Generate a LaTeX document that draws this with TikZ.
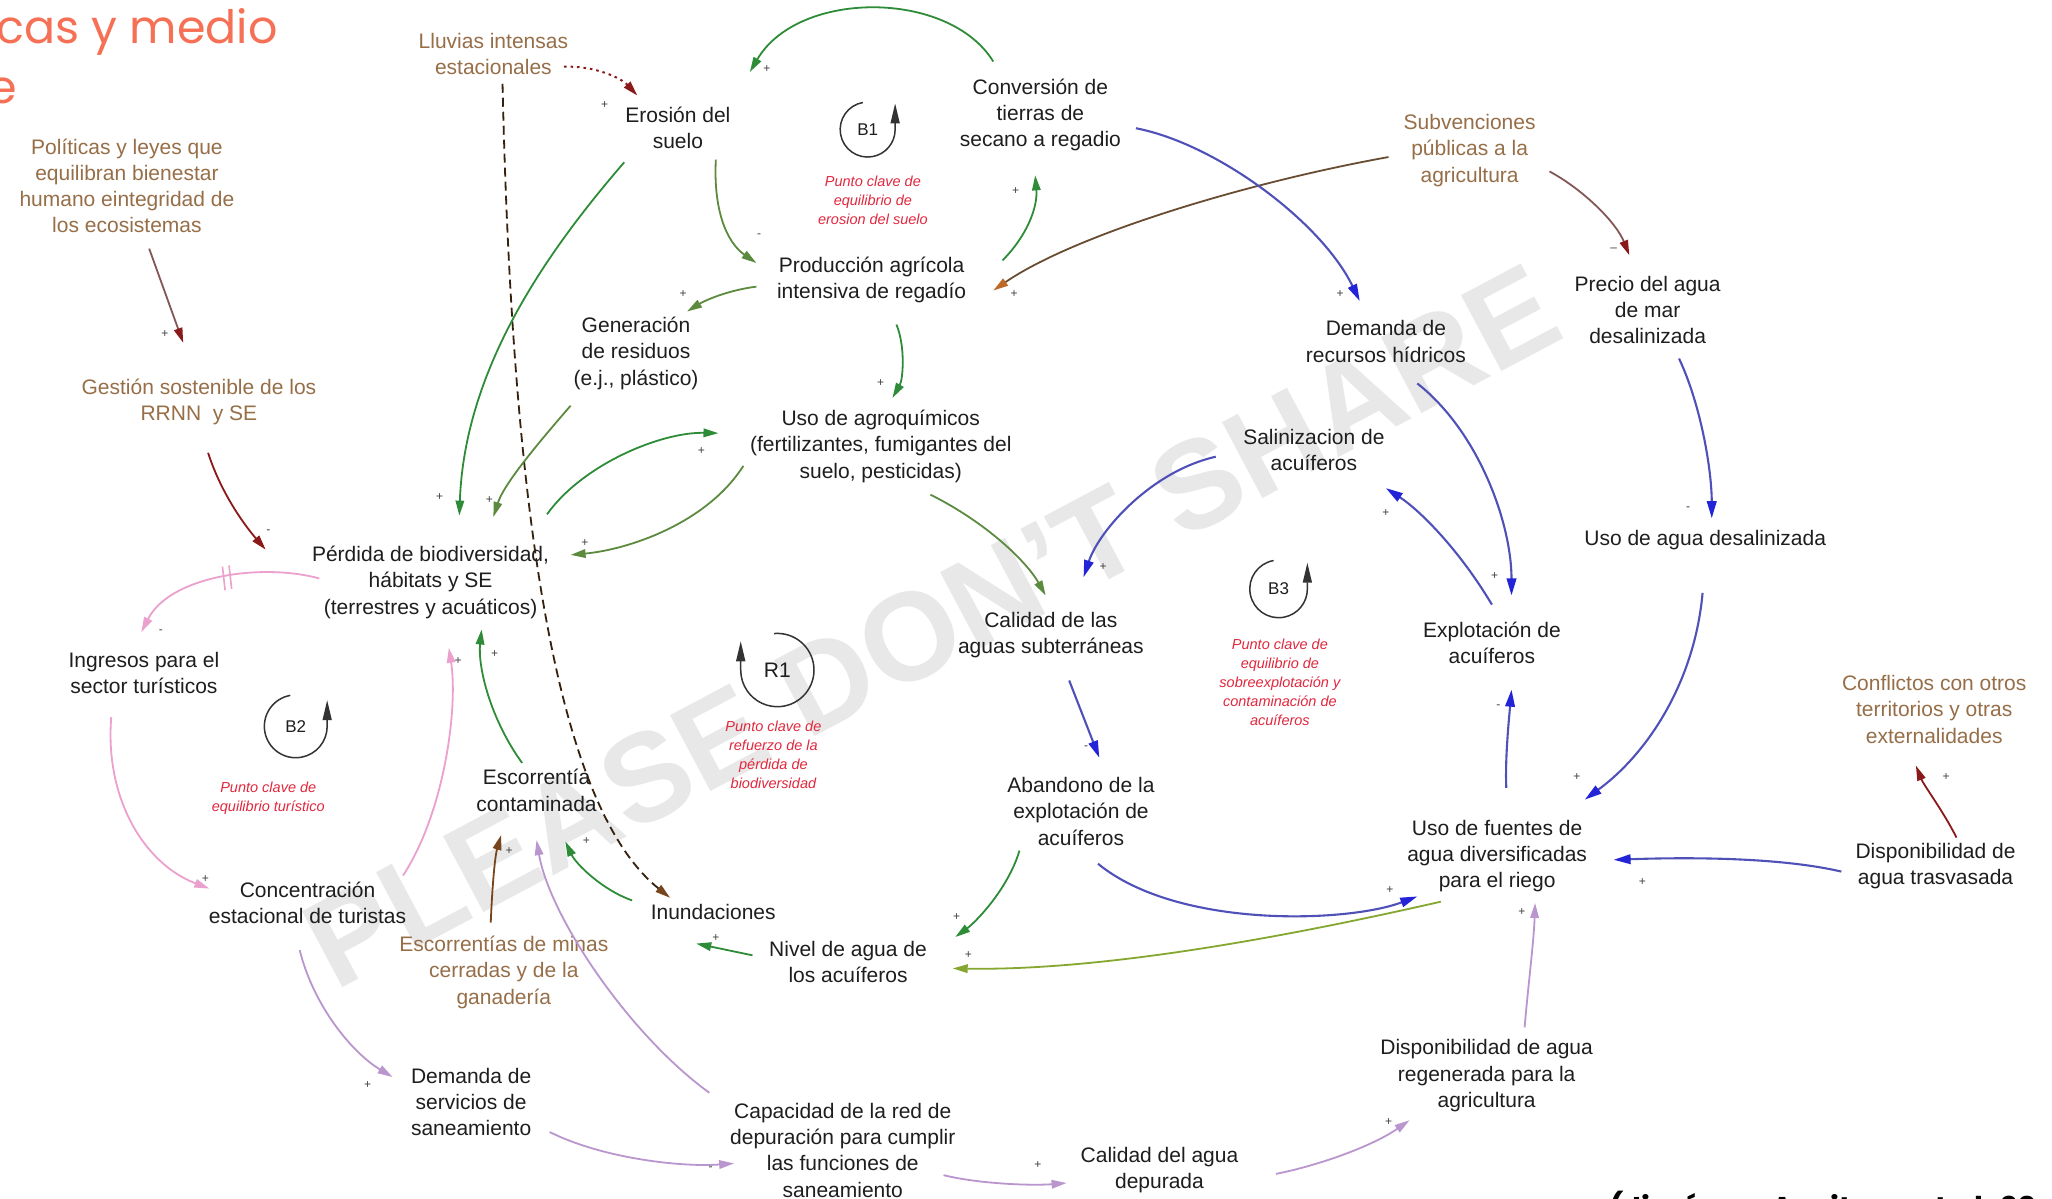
\documentclass[tikz,border=0pt]{standalone}
\usepackage{fontspec}
\setmainfont{Liberation Sans}
\newfontfamily\popfont{Poppins}
\usetikzlibrary{arrows.meta}
\definecolor{txt}{RGB}{30,30,30}
\definecolor{ext}{RGB}{150,110,72}
\definecolor{keyred}{RGB}{225,40,62}
\definecolor{ttl}{RGB}{245,112,84}
\definecolor{cgreen}{RGB}{46,140,56}
\definecolor{colive}{RGB}{92,138,62}
\definecolor{cblue}{RGB}{35,35,215}
\definecolor{cbluel}{RGB}{80,80,185}
\definecolor{clilac}{RGB}{185,150,205}
\definecolor{cpink}{RGB}{235,160,205}
\definecolor{cdred}{RGB}{140,25,25}
\definecolor{cbrown}{RGB}{120,70,30}
\definecolor{cbrtip}{RGB}{190,105,40}
\definecolor{wm}{RGB}{232,232,232}
\tikzset{
  lbl/.style={font=\fontsize{21}{26.2}\selectfont, text=txt, align=center, inner sep=1pt},
  extl/.style={lbl, text=ext},
  keytxt/.style={font=\fontsize{14.5}{19}\selectfont\itshape, text=keyred, align=center, inner sep=1pt},
  sgn/.style={font=\fontsize{12}{12}\selectfont, text=black!75, inner sep=0pt},
  looplbl/.style={font=\fontsize{17}{17}\selectfont, text=txt, inner sep=0pt},
  loopc/.style={line width=1.5pt, draw=black!80, -{Triangle[length=20pt,width=9pt]}},
  con/.style={line width=1.8pt, -{Triangle[length=15pt,width=8.5pt]}},
  cg/.style={con, draw=cgreen},
  co/.style={con, draw=colive},
  cb/.style={line width=2.1pt, draw=cbluel, -{Triangle[length=17pt,width=9.5pt,color=cblue]}},
  cl/.style={con, draw=clilac},
  cp/.style={con, draw=cpink},
  cr/.style={con, draw=cdred},
  cbr/.style={con, draw=cbrown},
}
\begin{document}
\begin{tikzpicture}[x=1.3087pt,y=-1.3087pt]
\path[use as bounding box, clip] (0,0) rectangle (1568,916);
\fill[white] (0,0) rectangle (1568,916);

% watermark
\node[rotate=28, font=\fontsize{125}{125}\selectfont\bfseries, text=wm, inner sep=0] (wmk) at (712,478) {PLEASE DON’T SHARE};

% title and citation (cut by the frame)
\node[anchor=base west, inner sep=0, font=\popfont\fontsize{46}{46}\selectfont, text=ttl] (title1) at (-3,33) {cas y medio};
\node[anchor=base west, inner sep=0, font=\popfont\fontsize{46}{46}\selectfont, text=ttl] (title2) at (-9,79) {e};
\node[anchor=base west, inner sep=0, font=\popfont\bfseries\fontsize{30}{30}\selectfont, text=black] (cite) at (1230,931) {(Jiménez-Aceituno et al. 20};

% external variables
\node[extl] (lluvias) at (377,41) {Lluvias intensas\\estacionales};
\node[extl] (politicas) at (97,142) {Políticas y leyes que\\equilibran bienestar\\humano eintegridad de\\los ecosistemas};
\node[extl] (gestion) at (152,307) {Gestión sostenible de los\\RRNN \ y SE};
\node[extl] (subv) at (1123,115) {Subvenciones\\públicas a la\\agricultura};
\node[extl] (escminas) at (385,743) {Escorrentías de minas\\cerradas y de la\\ganadería};
\node[extl] (conflictos) at (1478,542) {Conflictos con otros\\territorios y otras\\externalidades};

% variables
\node[lbl] (erosion) at (518,98) {Erosión del\\suelo};
\node[lbl] (conversion) at (795,88) {Conversión de\\tierras de\\secano a regadio};
\node[lbl] (prod) at (666,214) {Producción agrícola\\intensiva de regadío};
\node[lbl] (gener) at (486,270) {Generación\\de residuos\\(e.j., plástico)};
\node[lbl] (agro) at (673,341) {Uso de agroquímicos\\(fertilizantes, fumigantes del\\suelo, pesticidas)};
\node[lbl] (perdida) at (329,445) {Pérdida de biodiversidad,\\hábitats y SE\\(terrestres y acuáticos)};
\node[lbl] (ingresos) at (110,514) {Ingresos para el\\sector turísticos};
\node[lbl] (concen) at (235,690) {Concentración\\estacional de turistas};
\node[lbl] (escorr) at (410,604) {Escorrentía\\contaminada};
\node[lbl] (inund) at (545,697) {Inundaciones};
\node[lbl] (nivel) at (648,735) {Nivel de agua de\\los acuíferos};
\node[lbl] (calsub) at (803,485) {Calidad de las\\aguas subterráneas};
\node[lbl] (abandono) at (826,620) {Abandono de la\\explotación de\\acuíferos};
\node[lbl] (demrec) at (1059,261) {Demanda de\\recursos hídricos};
\node[lbl] (salin) at (1004,344) {Salinizacion de\\acuíferos};
\node[lbl] (precio) at (1259,237) {Precio del agua\\de mar\\desalinizada};
\node[lbl] (usodesal) at (1303,413) {Uso de agua desalinizada};
\node[lbl] (explot) at (1140,491) {Explotación de\\acuíferos};
\node[lbl] (usofuentes) at (1144,654) {Uso de fuentes de\\agua diversificadas\\para el riego};
\node[lbl] (disptrasv) at (1479,662) {Disponibilidad de\\agua trasvasada};
\node[lbl] (dispreg) at (1136,822) {Disponibilidad de agua\\regenerada para la\\agricultura};
\node[lbl] (demsan) at (360,842) {Demanda de\\servicios de\\saneamiento};
\node[lbl] (capacidad) at (644,879) {Capacidad de la red de\\depuración para cumplir\\las funciones de\\saneamiento};
\node[lbl] (caldep) at (886,894) {Calidad del agua\\depurada};

% loop markers
\node[looplbl] (b1) at (663,99) {B1};
\draw[loopc] (b1.center) ++(-100:21) arc[start angle=-100, end angle=-360, radius=21] -- ++(0,-20);
\node[looplbl] (b2) at (226,555) {B2};
\draw[loopc] (b2.center) ++(-100:24) arc[start angle=-100, end angle=-360, radius=24] -- ++(0,-20);
\node[looplbl] (b3) at (977,450) {B3};
\draw[loopc] (b3.center) ++(-100:22) arc[start angle=-100, end angle=-360, radius=22] -- ++(0,-20);
\node[looplbl, font=\fontsize{21}{21}\selectfont] (r1) at (594,512) {R1};
\draw[loopc] (r1.center) ++(-95:28) arc[start angle=-95, end angle=180, radius=28] -- ++(0,-22);

\node[keytxt] (k1) at (667,153) {Punto clave de\\equilibrio de\\erosion del suelo};
\node[keytxt] (k2) at (205,610) {Punto clave de\\equilibrio turístico};
\node[keytxt] (k3) at (978,521) {Punto clave de\\equilibrio de\\sobreexplotación y\\contaminación de\\acuíferos};
\node[keytxt] (k4) at (591,577) {Punto clave de\\refuerzo de la\\pérdida de\\biodiversidad};

% connectors
\draw[cr, line width=2pt, dash pattern=on 2.5pt off 4pt] ([shift={(54,10)}]lluvias.center) .. controls (455,50) and (475,60) .. ([shift={(-31,-25)}]erosion.center);
\draw[con, draw=black!55!cbrown, dash pattern=on 9pt off 5pt, -{Triangle[length=15pt,width=8.5pt,color=cbrown]}] ([shift={(7,23)}]lluvias.center) .. controls (392,420) and (430,620) .. ([shift={(-33,-11)}]inund.center);
\draw[cg] ([shift={(-36,-41)}]conversion.center) .. controls (725,-8) and (610,-8) .. ([shift={(55,-43)}]erosion.center);
\draw[cg] ([shift={(-41,26)}]erosion.center) .. controls (420,190) and (355,280) .. ([shift={(22,-51)}]perdida.center);
\draw[co] ([shift={(29,24)}]erosion.center) .. controls (545,160) and (555,185) .. ([shift={(-88,-13)}]prod.center);
\draw[cg] ([shift={(100,-15)}]prod.center) .. controls (785,180) and (793,158) .. ([shift={(-4,46)}]conversion.center);
\draw[con, draw=ext!70!black, -{Triangle[length=15pt,width=8.5pt,color=cbrtip]}] ([shift={(-62,5)}]subv.center) .. controls (950,140) and (820,180) .. ([shift={(93,8)}]prod.center);
\draw[con, draw=gray!60!cdred, -{Triangle[length=15pt,width=8.5pt,color=cdred]}] ([shift={(61,16)}]subv.center) .. controls (1210,145) and (1235,170) .. ([shift={(-14,-42)}]precio.center);
\draw[cb] ([shift={(73,10)}]conversion.center) .. controls (930,110) and (1010,170) .. ([shift={(-20,-31)}]demrec.center);
\draw[co] ([shift={(-88,5)}]prod.center) .. controls (555,222) and (538,230) .. ([shift={(39,-32)}]gener.center);
\draw[cg] ([shift={(19,34)}]prod.center) .. controls (692,265) and (690,290) .. ([shift={(9,-37)}]agro.center);
\draw[co] ([shift={(-50,40)}]gener.center) .. controls (410,340) and (385,370) .. ([shift={(48,-50)}]perdida.center);
\draw[cg] ([shift={(89,-52)}]perdida.center) .. controls (445,355) and (505,330) .. ([shift={(-124,-10)}]agro.center);
\draw[co] ([shift={(-105,15)}]agro.center) .. controls (540,400) and (480,420) .. ([shift={(107,-21)}]perdida.center);
\draw[co] ([shift={(38,37)}]agro.center) .. controls (755,400) and (785,430) .. ([shift={(-4,-30)}]calsub.center);
\draw[cb] ([shift={(-75,5)}]salin.center) .. controls (880,360) and (840,405) .. ([shift={(25,-44)}]calsub.center);
\draw[cb] ([shift={(24,32)}]demrec.center) .. controls (1130,330) and (1155,400) .. ([shift={(15,-36)}]explot.center);
\draw[cb] ([shift={(0,-29)}]explot.center) .. controls (1115,420) and (1085,390) .. ([shift={(55,29)}]salin.center);
\draw[cb] ([shift={(24,37)}]precio.center) .. controls (1300,310) and (1308,360) .. ([shift={(5,-17)}]usodesal.center);
\draw[cb] ([shift={(-2,40)}]usodesal.center) .. controls (1295,520) and (1260,575) .. ([shift={(67,-43)}]usofuentes.center);
\draw[cb] ([shift={(7,-52)}]usofuentes.center) .. controls (1150,580) and (1153,550) .. ([shift={(15,36)}]explot.center);
\draw[cb] ([shift={(14,35)}]calsub.center) -- ([shift={(14,-41)}]abandono.center);
\draw[cb] ([shift={(13,40)}]abandono.center) .. controls (900,710) and (1030,705) .. ([shift={(-61,31)}]usofuentes.center);
\draw[con, draw=colive!75!yellow] ([shift={(-43,35)}]usofuentes.center) .. controls (1000,712) and (850,742) .. ([shift={(80,5)}]nivel.center);
\draw[cg] ([shift={(-47,30)}]abandono.center) .. controls (770,680) and (745,705) .. ([shift={(82,-19)}]nivel.center);
\draw[cg] ([shift={(-73,-5)}]nivel.center) -- ([shift={(-13,24)}]inund.center);
\draw[cg] ([shift={(-62,-9)}]inund.center) .. controls (460,680) and (440,660) .. ([shift={(22,39)}]escorr.center);
\draw[cbr] ([shift={(-10,-38)}]escminas.center) .. controls (376,680) and (378,655) .. ([shift={(-27,34)}]escorr.center);
\draw[cl] ([shift={(-102,-44)}]capacidad.center) .. controls (480,790) and (420,700) .. ([shift={(0,38)}]escorr.center);
\draw[cg] ([shift={(-11,-21)}]escorr.center) .. controls (375,550) and (365,510) .. ([shift={(39,36)}]perdida.center);
\draw[cr] ([shift={(7,39)}]gestion.center) .. controls (170,380) and (190,405) .. ([shift={(-126,-25)}]perdida.center);
\draw[con, draw=gray!60!cdred, -{Triangle[length=15pt,width=8.5pt,color=cdred]}] ([shift={(17,48)}]politicas.center) -- ([shift={(-12,-45)}]gestion.center);
\draw[cp] ([shift={(-85,-3)}]perdida.center) .. controls (200,430) and (130,440) .. ([shift={(-2,-31)}]ingresos.center);
\draw[cpink, line width=1.6pt] (170,433) -- (172,451) (175,432) -- (177,450);
\draw[cp] ([shift={(-25,34)}]ingresos.center) .. controls (80,610) and (110,660) .. ([shift={(-75,-11)}]concen.center);
\draw[cp] ([shift={(73,-21)}]concen.center) .. controls (340,620) and (350,540) .. ([shift={(14,50)}]perdida.center);
\draw[cl] ([shift={(-6,36)}]concen.center) .. controls (240,770) and (270,805) .. ([shift={(-60,-19)}]demsan.center);
\draw[cl] ([shift={(60,23)}]demsan.center) .. controls (460,885) and (520,892) .. ([shift={(-83,10)}]capacidad.center);
\draw[cl] ([shift={(77,19)}]capacidad.center) .. controls (750,905) and (790,906) .. ([shift={(-71,10)}]caldep.center);
\draw[cl] ([shift={(89,3)}]caldep.center) .. controls (1010,890) and (1050,875) .. ([shift={(-59,34)}]dispreg.center);
\draw[cl] ([shift={(29,-37)}]dispreg.center) .. controls (1168,750) and (1172,720) .. ([shift={(29,36)}]usofuentes.center);
\draw[cb] ([shift={(-72,4)}]disptrasv.center) .. controls (1360,655) and (1290,655) .. ([shift={(89,3)}]usofuentes.center);
\draw[cr] ([shift={(16,-22)}]disptrasv.center) .. controls (1485,620) and (1470,600) .. ([shift={(-14,43)}]conflictos.center);

% polarity signs
\node[sgn] (s1) at (462,80) {+};
\node[sgn] (s3) at (586,53) {+};
\node[sgn] (s4) at (336,380) {+};
\node[sgn] (s12) at (374,382) {+};
\node[sgn] (s5) at (580,180) {-};
\node[sgn] (s6) at (776,146) {+};
\node[sgn] (s7) at (775,225) {+};
\node[sgn] (s8) at (1233,191) {--};
\node[sgn] (s9) at (1024,225) {+};
\node[sgn] (s10) at (522,225) {+};
\node[sgn] (s11) at (673,293) {+};
\node[sgn] (s13) at (536,345) {+};
\node[sgn] (s14) at (447,415) {+};
\node[sgn] (s16) at (843,433) {+};
\node[sgn] (s17) at (1142,440) {+};
\node[sgn] (s18) at (1059,392) {+};
\node[sgn] (s19) at (1290,389) {-};
\node[sgn] (s20) at (1205,594) {+};
\node[sgn] (s21) at (1145,540) {-};
\node[sgn] (s22) at (830,571) {-};
\node[sgn] (s23) at (1062,680) {+};
\node[sgn] (s24) at (740,730) {+};
\node[sgn] (s25) at (731,701) {+};
\node[sgn] (s26) at (547,717) {+};
\node[sgn] (s27) at (448,643) {+};
\node[sgn] (s28) at (389,650) {+};
\node[sgn] (s30) at (378,500) {+};
\node[sgn] (s31) at (205,406) {-};
\node[sgn] (s32) at (126,255) {+};
\node[sgn] (s33) at (123,483) {-};
\node[sgn] (s34) at (157,672) {+};
\node[sgn] (s35) at (350,505) {+};
\node[sgn] (s36) at (281,829) {+};
\node[sgn] (s37) at (543,893) {-};
\node[sgn] (s38) at (793,890) {+};
\node[sgn] (s39) at (1061,857) {+};
\node[sgn] (s40) at (1163,697) {+};
\node[sgn] (s41) at (1255,674) {+};
\node[sgn] (s42) at (1487,594) {+};
\end{tikzpicture}
\end{document}
